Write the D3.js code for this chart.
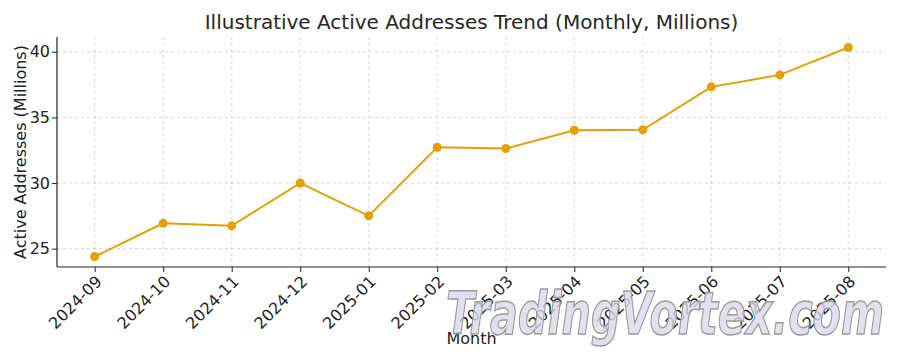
<!DOCTYPE html>
<html><head><meta charset="utf-8">
<script src="https://cdn.jsdelivr.net/npm/d3@7"></script>
<style>body{margin:0;background:#fff}svg{display:block}text{font-family:"DejaVu Sans",sans-serif}</style>
</head><body><svg id="c" width="900" height="360"></svg>
<script>
const months = ["2024-09","2024-10","2024-11","2024-12","2025-01","2025-02","2025-03","2025-04","2025-05","2025-06","2025-07","2025-08"];
const activeAddresses = [24.4,26.93,26.74,30.0,27.5,32.73,32.63,34.02,34.06,37.33,38.24,40.33];
const yTicks = [25,30,35,40];
const titleText = "Illustrative Active Addresses Trend (Monthly, Millions)";
const xLabel = "Month", yLabel = "Active Addresses (Millions)";

const svg = d3.select("#c");
const L=57,R=886,T=37,B=267;
const n = months.length;
const x = d3.scaleLinear().domain([-0.55, n-1+0.55]).range([L,R]);
const ymin=d3.min(activeAddresses), ymax=d3.max(activeAddresses), pad=(ymax-ymin)*0.05;
const y = d3.scaleLinear().domain([ymin-pad, ymax+pad]).range([B,T]);

// grid
const g = svg.append("g");
g.selectAll(".gx").data(months).join("line")
  .attr("x1",(d,i)=>x(i)).attr("x2",(d,i)=>x(i)).attr("y1",T).attr("y2",B)
  .attr("stroke","#b0b0b0").attr("stroke-width",0.8).attr("stroke-dasharray","3,3").attr("opacity",0.65);
g.selectAll(".gy").data(yTicks).join("line")
  .attr("x1",L).attr("x2",R).attr("y1",d=>y(d)).attr("y2",d=>y(d))
  .attr("stroke","#b0b0b0").attr("stroke-width",0.8).attr("stroke-dasharray","3,3").attr("opacity",0.65);

// axes
const xAxis = d3.axisBottom(x).tickValues(d3.range(n)).tickFormat(i=>months[i]).tickSize(5).tickSizeOuter(0);
const xa = svg.append("g").attr("transform",`translate(0,${B})`).call(xAxis);
xa.select(".domain").attr("stroke","#222").attr("stroke-width",1.2).attr("d",`M${L},0H${R}`);
xa.selectAll(".tick line").attr("stroke","#222");
xa.selectAll(".tick text").attr("font-size",16).attr("fill","#222")
  .attr("text-anchor","end").attr("dy",0).attr("transform","translate(2,10) rotate(-45)");

const yAxis = d3.axisLeft(y).tickValues(yTicks).tickSize(5).tickSizeOuter(0);
const ya = svg.append("g").attr("transform",`translate(${L},0)`).call(yAxis);
ya.select(".domain").attr("stroke","#222").attr("stroke-width",1.2).attr("d",`M0,${T}V${B}`);
ya.selectAll(".tick line").attr("stroke","#222");
ya.selectAll(".tick text").attr("font-size",16).attr("fill","#222").attr("x",-7);

// line
const line = d3.line().x((d,i)=>x(i)).y(d=>y(d));
svg.append("path").datum(activeAddresses).attr("d",line).attr("fill","none")
  .attr("stroke","#e69f00").attr("stroke-width",2);
svg.selectAll(".pt").data(activeAddresses).join("circle")
  .attr("cx",(d,i)=>x(i)).attr("cy",d=>y(d)).attr("r",4.5).attr("fill","#e69f00");

// titles
svg.append("text").attr("x",(L+R)/2).attr("y",29).attr("text-anchor","middle")
  .attr("font-size",20).attr("fill","#262626").text(titleText);
svg.append("text").attr("x",(L+R)/2).attr("y",344).attr("text-anchor","middle")
  .attr("font-size",16).attr("fill","#222").text(xLabel);
svg.append("text").attr("transform",`translate(26,${(T+B)/2}) rotate(-90)`).attr("text-anchor","middle")
  .attr("font-size",16).attr("fill","#222").text(yLabel);

// watermark
svg.append("text").attr("x",446).attr("y",334).attr("textLength",438).attr("lengthAdjust","spacingAndGlyphs")
  .attr("font-family","DejaVu Serif").attr("font-style","italic").attr("font-weight","bold")
  .attr("font-size",58).attr("fill","#dcd8ea").attr("fill-opacity",0.8)
  .attr("stroke","#9a9a9a").attr("stroke-width",1.5).text("TradingVortex.com");
</script></body></html>
